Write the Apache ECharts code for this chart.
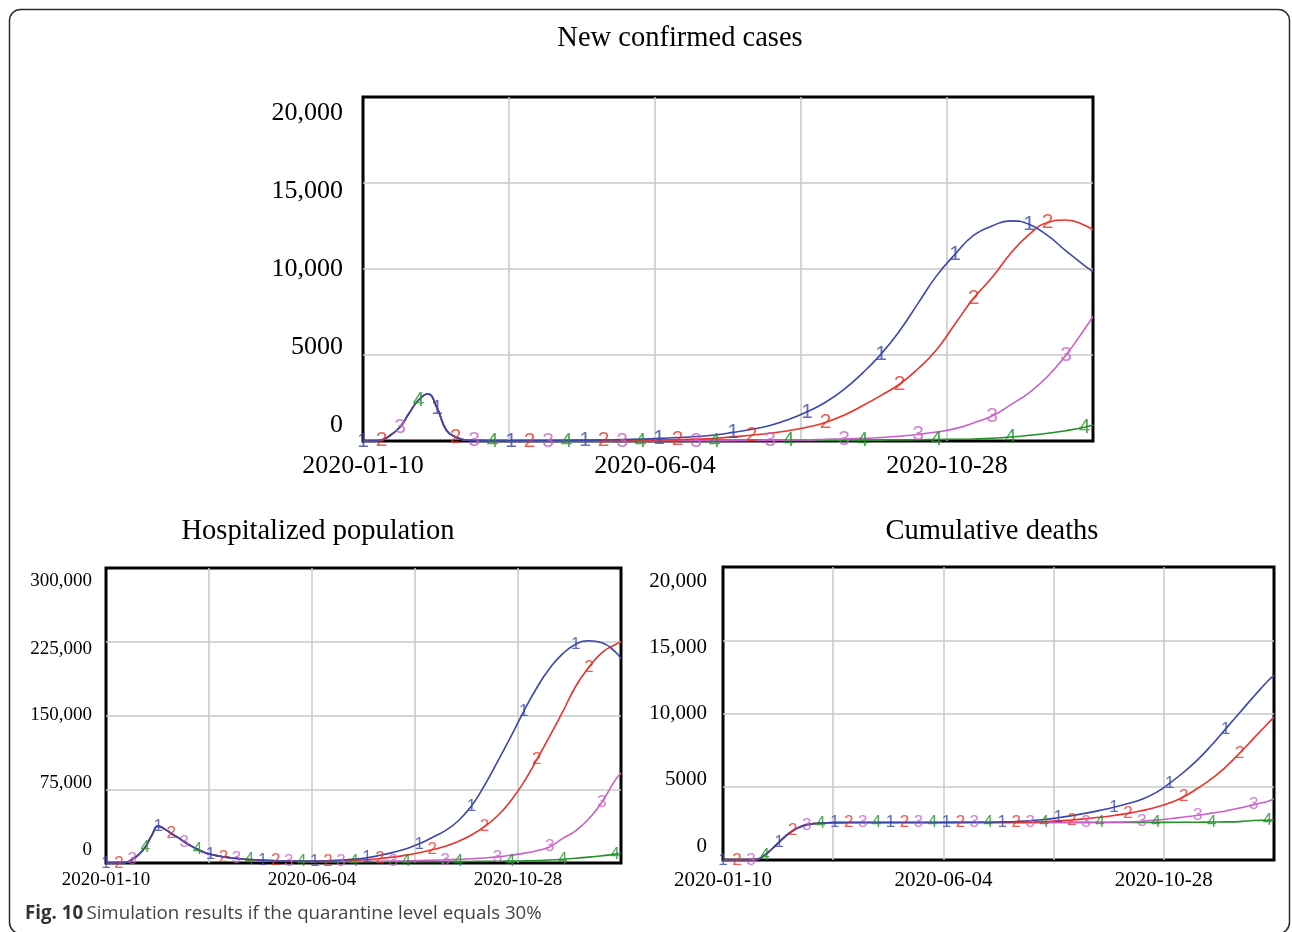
<!DOCTYPE html>
<html>
<head>
<meta charset="utf-8">
<script src="https://cdn.jsdelivr.net/npm/echarts@6/dist/echarts.min.js"></script>
<style>
  html, body { margin: 0; padding: 0; background: #fff; }
  #chart { width: 1292px; height: 932px; }
</style>
</head>
<body>
<div id="chart"></div>
<script>
// Simulation day offsets from 2020-01-10 (finer steps during the early outbreak)
const days = [0, 4.625, 9.25, 13.875, 18.5, 23.125, 27.75, 32.375, 37, 41.625, 46.25, 50.875, 55.5, 60.125, 64.75, 69.375, 74,
  83.25, 92.5, 101.75, 111, 120.25, 129.5, 138.75, 148, 157.25, 166.5, 175.75, 185, 194.25, 203.5, 212.75, 222,
  231.25, 240.5, 249.75, 259, 268.25, 277.5, 286.75, 296, 305.25, 314.5, 323.75, 333, 342.25, 351.5, 360.75, 365];

const xTickLabels = ['2020-01-10', '', '2020-06-04', '', '2020-10-28', ''];
const casesYLabels = ['0', '5000', '10,000', '15,000', '20,000'];
const hospYLabels = ['0', '75,000', '150,000', '225,000', '300,000'];
const deathsYLabels = ['0', '5000', '10,000', '15,000', '20,000'];

// New confirmed cases, runs 1-4
const cases1 = [0, 0, 60, 350, 810, 1630, 2380, 2730, 1920, 640, 230, 60, 30, 20, 15, 12, 10,
  15, 20, 30, 40, 60, 80, 110, 150, 200, 260, 350, 500, 680, 900, 1250, 1700,
  2250, 3000, 3950, 5050, 6400, 8000, 9600, 10850, 11950, 12500, 12800, 12600, 11950, 11050, 10200, 9850];
const cases2 = [0, 0, 60, 350, 810, 1630, 2380, 2730, 1920, 640, 230, 60, 30, 20, 15, 12, 10,
  12, 15, 20, 25, 30, 40, 50, 60, 80, 110, 160, 240, 330, 450, 600, 800,
  1080, 1500, 2050, 2650, 3300, 4200, 5300, 6800, 8300, 9500, 10900, 12000, 12700, 12850, 12550, 12270];
const cases3 = [0, 0, 60, 350, 810, 1630, 2380, 2730, 1920, 640, 230, 60, 30, 20, 15, 12, 10,
  8, 6, 5, 5, 5, 8, 10, 10, 12, 15, 20, 25, 30, 40, 50, 65,
  100, 120, 150, 200, 280, 380, 520, 720, 1050, 1450, 2100, 2800, 3750, 5000, 6500, 7250];
const cases4 = [0, 0, 60, 350, 810, 1630, 2380, 2730, 1920, 640, 230, 60, 30, 20, 15, 12, 10,
  6, 5, 4, 4, 4, 4, 5, 5, 6, 7, 8, 10, 12, 15, 18, 22,
  28, 35, 42, 50, 60, 72, 85, 100, 120, 160, 230, 330, 450, 600, 800, 930];

// Hospitalized population, runs 1-4
const hosp1 = [0, 0, 0, 500, 3500, 8500, 16000, 28000, 37500, 34500, 30000, 26000, 21500, 17500, 14000, 11000, 8800,
  6200, 4700, 3500, 2800, 2300, 2000, 1900, 2000, 2300, 2900, 3900, 5400, 7800, 10800, 14500, 19500,
  26000, 33000, 43000, 58000, 79000, 103000, 128000, 154000, 178000, 198000, 213000, 222500, 226000, 224000, 215000, 208000];
const hosp2 = [0, 0, 0, 500, 3500, 8500, 16000, 28000, 37500, 34500, 30000, 26000, 21500, 17500, 14000, 11000, 8800,
  6200, 4700, 3500, 2800, 2300, 2000, 1700, 1800, 2000, 2300, 2800, 3500, 4600, 6000, 8000, 10500,
  13500, 17000, 22000, 28500, 37000, 48000, 63000, 82000, 105000, 129000, 154000, 180000, 199000, 214000, 222000, 225000];
const hosp3 = [0, 0, 0, 500, 3500, 8500, 16000, 28000, 37500, 34500, 30000, 26000, 21500, 17500, 14000, 11000, 8800,
  6200, 4700, 3500, 2800, 2300, 1900, 1600, 1500, 1500, 1500, 1600, 1700, 1800, 2000, 2200, 2500,
  2800, 3200, 3700, 4300, 5100, 6200, 7800, 9800, 12500, 16500, 25000, 33000, 45000, 62000, 84000, 91500];
const hosp4 = [0, 0, 0, 500, 3500, 8500, 16000, 28000, 37500, 34500, 30000, 26000, 21500, 17500, 14000, 11000, 8800,
  6200, 4700, 3500, 2800, 2300, 1900, 1500, 1400, 1300, 1300, 1300, 1300, 1300, 1300, 1300, 1300,
  1400, 1400, 1500, 1600, 1700, 1800, 2000, 2200, 2500, 3000, 3800, 4800, 6000, 7400, 9000, 10000];

// Cumulative deaths, runs 1-4
const deaths1 = [0, 0, 0, 0, 0, 60, 350, 750, 1200, 1650, 2000, 2250, 2400, 2480, 2520, 2540, 2550,
  2560, 2560, 2560, 2560, 2560, 2560, 2560, 2565, 2570, 2575, 2580, 2600, 2630, 2680, 2760, 2880,
  3030, 3200, 3390, 3600, 3850, 4150, 4600, 5250, 6000, 6850, 7850, 8950, 10050, 11150, 12200, 12600];
const deaths2 = [0, 0, 0, 0, 0, 60, 350, 750, 1200, 1650, 2000, 2250, 2400, 2480, 2520, 2540, 2550,
  2555, 2555, 2555, 2555, 2555, 2555, 2555, 2555, 2555, 2555, 2560, 2560, 2565, 2580, 2620, 2670,
  2730, 2820, 2920, 3040, 3180, 3370, 3600, 3900, 4320, 4900, 5550, 6350, 7300, 8300, 9300, 9750];
const deaths3 = [0, 0, 0, 0, 0, 60, 350, 750, 1200, 1650, 2000, 2250, 2400, 2480, 2520, 2540, 2550,
  2555, 2555, 2555, 2555, 2555, 2555, 2555, 2555, 2555, 2555, 2555, 2555, 2555, 2560, 2560, 2560,
  2565, 2570, 2575, 2585, 2600, 2650, 2720, 2820, 2930, 3050, 3200, 3350, 3550, 3780, 4000, 4160];
const deaths4 = [0, 0, 0, 0, 0, 60, 350, 750, 1200, 1650, 2000, 2250, 2400, 2480, 2520, 2540, 2550,
  2555, 2555, 2555, 2555, 2555, 2555, 2555, 2555, 2555, 2555, 2555, 2555, 2555, 2555, 2555, 2555,
  2555, 2555, 2555, 2560, 2560, 2560, 2565, 2570, 2575, 2580, 2590, 2600, 2620, 2700, 2720, 2730];

const runNames = ['1', '2', '3', '4'];
const runColors = ['#3a47ad', '#ee3128', '#c95ec9', '#22912a'];

// Run numbers are printed along each curve every 9.25 days, cycling 1-2-3-4
const markerStep = 9.25;
const markerCount = 40;

const SERIF = '"Liberation Serif", "Times New Roman", serif';
const SANS = '"Liberation Sans", Arial, sans-serif';

const panels = [
  { title: 'New confirmed cases', runs: [cases1, cases2, cases3, cases4], yMax: 20000, yLabels: casesYLabels,
    grid: { left: 363, top: 97, width: 730, height: 344 }, titlePos: { x: 675, y: 19 }, titleSize: 28.5,
    tickSize: 26, yMargin: 20, xMargin: 12, labelShift: 16, digitSize: 21 },
  { title: 'Hospitalized population', runs: [hosp1, hosp2, hosp3, hosp4], yMax: 300000, yLabels: hospYLabels,
    grid: { left: 106, top: 568, width: 515, height: 295 }, titlePos: { x: 313, y: 512 }, titleSize: 28.5,
    tickSize: 19, yMargin: 14, xMargin: 8, labelShift: 13, digitSize: 17 },
  { title: 'Cumulative deaths', runs: [deaths1, deaths2, deaths3, deaths4], yMax: 20000, yLabels: deathsYLabels,
    grid: { left: 723, top: 567, width: 551, height: 293 }, titlePos: { x: 987, y: 512 }, titleSize: 28.5,
    tickSize: 21, yMargin: 16, xMargin: 10, labelShift: 14, digitSize: 17 }
];

const option = {
  animation: false,
  backgroundColor: '#fff',
  title: [],
  grid: [],
  xAxis: [],
  yAxis: [],
  series: [],
  graphic: [
    { type: 'rect', shape: { x: 9.5, y: 9.5, width: 1280, height: 924, r: 11 },
      style: { fill: 'none', stroke: '#2b2b2b', lineWidth: 1.5 }, silent: true },
    { type: 'text', left: 25, top: 904, silent: true,
      style: { text: '{b|Fig. 10} {r|Simulation results if the quarantine level equals 30%}',
        rich: {
          b: { fontFamily: '"Open Sans", "Noto Sans", sans-serif', fontWeight: 'bold', fontSize: 18.7, fill: '#333' },
          r: { fontFamily: '"Open Sans", "Noto Sans", sans-serif', fontSize: 18.7, fill: '#444' }
        } } }
  ]
};

panels.forEach((p, gi) => {
  option.title.push({
    text: p.title, left: p.titlePos.x, top: p.titlePos.y, textAlign: 'center',
    textStyle: { fontFamily: SERIF, fontWeight: 'normal', fontSize: p.titleSize, color: '#000' }
  });
  option.grid.push(Object.assign({ show: true, borderColor: '#000', borderWidth: 3, backgroundColor: 'transparent', containLabel: false }, p.grid));

  const xInterval = 73;
  option.xAxis.push({
    type: 'value', gridIndex: gi, min: 0, max: 365, interval: xInterval,
    axisLine: { show: false }, axisTick: { show: false },
    splitLine: { show: true, showMinLine: false, showMaxLine: false, lineStyle: { color: '#c9c9c9', width: 1.5 } },
    axisLabel: {
      margin: p.xMargin, fontFamily: SERIF, fontSize: p.tickSize, color: '#000',
      formatter: v => xTickLabels[Math.round(v / xInterval)] || ''
    }
  });

  // y tick labels are drawn pulled in towards the middle of the axis
  const yInterval = p.yMax / 4;
  const rich = {};
  p.yLabels.forEach((t, i) => {
    const d = Math.round(p.labelShift * (2 * i / 4 - 1));
    rich['t' + i] = {
      fontFamily: SERIF, fontSize: p.tickSize, color: '#000',
      padding: d >= 0 ? [2 * d, 0, 0, 0] : [0, 0, -2 * d, 0]
    };
  });
  option.yAxis.push({
    type: 'value', gridIndex: gi, min: 0, max: p.yMax, interval: yInterval,
    axisLine: { show: false }, axisTick: { show: false },
    splitLine: { show: true, showMinLine: false, showMaxLine: false, lineStyle: { color: '#c9c9c9', width: 1.5 } },
    axisLabel: {
      margin: p.yMargin, rich,
      formatter: v => { const i = Math.round(v / yInterval); return '{t' + i + '|' + p.yLabels[i] + '}'; }
    }
  });

  // curves: drawn run 4 first so run 1 ends up on top
  for (let r = 3; r >= 0; r--) {
    const vals = p.runs[r];
    option.series.push({
      type: 'line', name: runNames[r], xAxisIndex: gi, yAxisIndex: gi,
      data: days.map((d, i) => [d, vals[i]]),
      showSymbol: false, symbol: 'none', smooth: 0.5,
      lineStyle: { color: runColors[r], width: 1.6 }, silent: true, z: 3
    });
  }

  // run numbers along the curves
  const marks = [[], [], [], []];
  for (let m = 0; m < markerCount; m++) {
    const day = m * markerStep;
    const idx = days.findIndex(d => Math.abs(d - day) < 0.01);
    if (idx < 0) continue;
    const r = m % 4;
    marks[r].push([days[idx], p.runs[r][idx]]);
  }
  for (let r = 0; r < 4; r++) {
    option.series.push({
      type: 'scatter', name: runNames[r] + ' marks', xAxisIndex: gi, yAxisIndex: gi,
      data: marks[r], symbol: 'circle', symbolSize: 1, clip: false, silent: true, z: 5,
      itemStyle: { color: 'rgba(0,0,0,0)' },
      label: { show: true, position: 'inside', formatter: runNames[r], color: runColors[r],
        fontFamily: SANS, fontSize: p.digitSize }
    });
  }
});

const chart = echarts.init(document.getElementById('chart'), null, { renderer: 'canvas' });
chart.setOption(option);
</script>
</body>
</html>
